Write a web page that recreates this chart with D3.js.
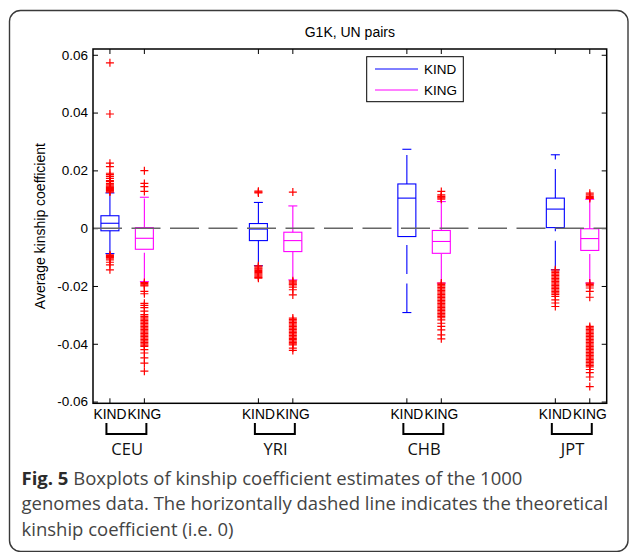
<!DOCTYPE html>
<meta charset="utf-8">
<style>
body { margin: 0; background: #fff; }
text.ax { font-family: "Liberation Sans", Arial, sans-serif; fill: #000; }
text.cap { font-family: "Open Sans", sans-serif; fill: #444; }
</style>
<svg width="630" height="552"></svg>
<script src="https://cdn.jsdelivr.net/npm/d3@7"></script>
<script>
const groups = ["CEU", "YRI", "CHB", "JPT"]
const methods = ["KIND", "KING"]
const yTicks = [-0.06, -0.04, -0.02, 0, 0.02, 0.04, 0.06]

// [lower whisker, q1, median, q3, upper whisker] per population
const kindStats = [
  [-0.0088, -0.0009, 0.0017, 0.0043, 0.0122],
  [-0.0130, -0.0043, -0.0003, 0.0016, 0.0089],
  [-0.0292, -0.0029, 0.0104, 0.0153, 0.0273],
  [-0.0144, 0.0002, 0.0066, 0.0104, 0.0254]
]
const kingStats = [
  [-0.0185, -0.0073, -0.0035, 0.0002, 0.0107],
  [-0.0179, -0.0081, -0.0043, -0.0014, 0.0077],
  [-0.0190, -0.0087, -0.0046, -0.0008, 0.0092],
  [-0.0190, -0.0077, -0.0036, -0.0002, 0.0100]
]

const kindOutliers = [
  [0.0572, 0.0395, 0.0225, 0.0213, 0.0190, 0.0185, 0.0179, 0.0172, 0.0165, 0.0161, 0.0154, 0.0150,
   0.0146, 0.0143, 0.0140, 0.0137, 0.0134, 0.0131, 0.0128, 0.0125,
   -0.0092, -0.0095, -0.0098, -0.0101, -0.0104, -0.0110, -0.0118, -0.0127, -0.0144],
  [0.0128, 0.0125, 0.0122,
   -0.0130, -0.0134, -0.0138, -0.0142, -0.0146, -0.0150, -0.0154, -0.0158, -0.0162, -0.0166, -0.0170, -0.0173],
  [],
  [-0.0144, -0.0149, -0.0154, -0.0159, -0.0164, -0.0169, -0.0174, -0.0179, -0.0184, -0.0189, -0.0194,
   -0.0199, -0.0204, -0.0209, -0.0214, -0.0219, -0.0224, -0.0229, -0.0236, -0.0248, -0.0259, -0.0271]
]
const kingOutliers = [
  [0.0199, 0.0155, 0.0144, 0.0127,
   -0.0188, -0.0192, -0.0196, -0.0200, -0.0219, -0.0227, -0.0260, -0.0267, -0.0275, -0.0287, -0.0299,
   -0.0305, -0.0310, -0.0315, -0.0320, -0.0325, -0.0330, -0.0335, -0.0340, -0.0345, -0.0350, -0.0355,
   -0.0360, -0.0365, -0.0370, -0.0375, -0.0380, -0.0385, -0.0390, -0.0395, -0.0400, -0.0405, -0.0409,
   -0.0420, -0.0432, -0.0449, -0.0467, -0.0495],
  [0.0125,
   -0.0182, -0.0186, -0.0190, -0.0194, -0.0196, -0.0204, -0.0213, -0.0231,
   -0.0311, -0.0316, -0.0321, -0.0326, -0.0331, -0.0336, -0.0341, -0.0346, -0.0351, -0.0356, -0.0361,
   -0.0366, -0.0371, -0.0376, -0.0381, -0.0386, -0.0391, -0.0396, -0.0400, -0.0404, -0.0415, -0.0423],
  [0.0127, 0.0115, 0.0110, 0.0107, 0.0104, 0.0100,
   -0.0190, -0.0195, -0.0200, -0.0205, -0.0210, -0.0215, -0.0220, -0.0225, -0.0230, -0.0235, -0.0240,
   -0.0245, -0.0250, -0.0255, -0.0260, -0.0265, -0.0270, -0.0275, -0.0280, -0.0285, -0.0290, -0.0295,
   -0.0300, -0.0305, -0.0310, -0.0317, -0.0329, -0.0340, -0.0352, -0.0369, -0.0383],
  [0.0121, 0.0115, 0.0110, 0.0106, 0.0103,
   -0.0190, -0.0195, -0.0200, -0.0207, -0.0219, -0.0239,
   -0.0340, -0.0345, -0.0350, -0.0355, -0.0360, -0.0365, -0.0370, -0.0375, -0.0380, -0.0385, -0.0390,
   -0.0395, -0.0400, -0.0405, -0.0410, -0.0415, -0.0420, -0.0425, -0.0430, -0.0435, -0.0440, -0.0445,
   -0.0450, -0.0455, -0.0460, -0.0465, -0.0470, -0.0475, -0.0480, -0.0489, -0.0500, -0.0515, -0.0548]
]

const title = "G1K, UN pairs"
const yLabel = "Average kinship coefficient"
const captionLines = [
  "Boxplots of kinship coefficient estimates of the 1000",
  "genomes data. The horizontally dashed line indicates the theoretical",
  "kinship coefficient (i.e. 0)"
]

const colors = {KIND: "#0000ff", KING: "#ff00ff"}

const svg = d3.select("svg")
const plot = {left: 93, top: 49, right: 606.7, bottom: 403.3}

// outer figure border
svg.append("rect")
    .attr("x", 9.5).attr("y", 10.5)
    .attr("width", 618.5).attr("height", 541)
    .attr("rx", 11)
    .attr("fill", "none")
    .attr("stroke", "#3a3a3a")
    .attr("stroke-width", 1.4)

const y = d3.scaleLinear()
    .domain([-0.0606, 0.062])
    .range([plot.bottom, plot.top])

const xg = d3.scalePoint()
    .domain(groups)
    .range([plot.left, plot.right])
    .padding(0.23)
const off = xg.step() * 0.116
const xm = d3.scalePoint().domain(methods).range([-off, off])
const bx = (g, m) => xg(g) + xm(m)

// flatten data into boxes
const boxes = []
groups.forEach((g, i) => {
  boxes.push({group: g, method: "KIND", s: kindStats[i], out: kindOutliers[i]})
  boxes.push({group: g, method: "KING", s: kingStats[i], out: kingOutliers[i]})
})

// y axis (left + right, inward ticks)
svg.append("g")
    .attr("transform", `translate(${plot.left},0)`)
    .call(d3.axisLeft(y).tickValues(yTicks).tickSize(-5).tickPadding(5)
      .tickFormat(d => d === 0 ? "0" : String(d)))
    .call(g => g.select(".domain").remove())
    .call(g => g.selectAll("line").attr("stroke", "#000"))
    .call(g => g.selectAll("text").attr("class", "ax").attr("font-size", 13.5).attr("fill", "#000"))

svg.append("g")
    .attr("transform", `translate(${plot.right},0)`)
    .call(d3.axisRight(y).tickValues(yTicks).tickSize(-5).tickFormat(""))
    .call(g => g.select(".domain").remove())
    .call(g => g.selectAll("line").attr("stroke", "#000"))

// x ticks (top + bottom)
const tickG = svg.append("g")
boxes.forEach(b => {
  const x = bx(b.group, b.method)
  tickG.append("line").attr("x1", x).attr("x2", x)
      .attr("y1", plot.bottom).attr("y2", plot.bottom - 5).attr("stroke", "#000")
  tickG.append("line").attr("x1", x).attr("x2", x)
      .attr("y1", plot.top).attr("y2", plot.top + 5).attr("stroke", "#000")
  tickG.append("text").attr("class", "ax")
      .attr("x", x).attr("y", 419)
      .attr("text-anchor", "middle")
      .attr("font-size", 13.8)
      .text(b.method)
})

// boxes
const boxG = svg.append("g")
const hw = 9, cw = 4.5
boxes.forEach(b => {
  const x = bx(b.group, b.method)
  const c = colors[b.method]
  const [lo, q1, med, q3, hi] = b.s
  const g = boxG.append("g").attr("stroke", c).attr("fill", "none").attr("stroke-width", 1.1)
  // whiskers, MATLAB style dashed
  g.append("line").attr("x1", x).attr("x2", x).attr("y1", y(q3)).attr("y2", y(hi))
      .attr("stroke-dasharray", "29,9.5")
  g.append("line").attr("x1", x).attr("x2", x).attr("y1", y(lo)).attr("y2", y(q1))
      .attr("stroke-dasharray", "29,9.5")
  g.append("line").attr("x1", x - cw).attr("x2", x + cw).attr("y1", y(hi)).attr("y2", y(hi))
  g.append("line").attr("x1", x - cw).attr("x2", x + cw).attr("y1", y(lo)).attr("y2", y(lo))
  g.append("rect").attr("x", x - hw).attr("width", 2 * hw)
      .attr("y", y(q3)).attr("height", y(q1) - y(q3))
  g.append("line").attr("x1", x - hw).attr("x2", x + hw).attr("y1", y(med)).attr("y2", y(med))
})

// zero reference line
svg.append("line")
    .attr("x1", plot.left).attr("x2", plot.right)
    .attr("y1", y(0)).attr("y2", y(0))
    .attr("stroke", "#666")
    .attr("stroke-width", 1.5)
    .attr("stroke-dasharray", "29,9.5")

// outliers as red plus signs
const outG = svg.append("g").attr("stroke", "#ff0000").attr("stroke-width", 1.2)
boxes.forEach(b => {
  const x = bx(b.group, b.method)
  b.out.forEach(v => {
    outG.append("path").attr("d", `M${x - 4},${y(v)}H${x + 4}M${x},${y(v) - 4}V${y(v) + 4}`)
  })
})

// frame
svg.append("rect")
    .attr("x", plot.left).attr("y", plot.top)
    .attr("width", plot.right - plot.left).attr("height", plot.bottom - plot.top)
    .attr("fill", "none").attr("stroke", "#000").attr("stroke-width", 1.5)

// title
svg.append("text").attr("class", "ax")
    .attr("x", (plot.left + plot.right) / 2).attr("y", 37)
    .attr("text-anchor", "middle").attr("font-size", 14)
    .text(title)

// y label
svg.append("text").attr("class", "ax")
    .attr("transform", `translate(45,${(plot.top + plot.bottom) / 2}) rotate(-90)`)
    .attr("text-anchor", "middle").attr("font-size", 14)
    .text(yLabel)

// legend
const lg = svg.append("g")
lg.append("rect").attr("x", 366.7).attr("y", 56.7).attr("width", 96.6).attr("height", 45)
    .attr("fill", "#fff").attr("stroke", "#000").attr("stroke-width", 1)
methods.forEach((m, i) => {
  const ly = 69 + i * 21
  lg.append("line").attr("x1", 375).attr("x2", 418).attr("y1", ly).attr("y2", ly)
      .attr("stroke", colors[m])
  lg.append("text").attr("class", "ax").attr("x", 424).attr("y", ly + 5)
      .attr("font-size", 13.5).text(m)
})

// group brackets under the axis
groups.forEach(g => {
  const x1 = bx(g, "KIND") - 3.5, x2 = bx(g, "KING") + 2
  svg.append("path")
      .attr("d", `M${x1},423V434H${x2}V423`)
      .attr("fill", "none").attr("stroke", "#000").attr("stroke-width", 2)
  svg.append("text").attr("class", "cap")
      .attr("x", xg(g)).attr("y", 455)
      .attr("text-anchor", "middle")
      .attr("font-size", 16.5)
      .style("fill", "#111")
      .text(g)
})

// caption
const capG = svg.append("g")
captionLines.forEach((line, i) => {
  const t = capG.append("text").attr("class", "cap")
      .attr("x", 21.5).attr("y", 484.5 + i * 25.5)
      .attr("font-size", 18.5)
  if (i === 0) {
    t.append("tspan").attr("font-weight", "bold").style("fill", "#2b2b2b").text("Fig. 5")
    t.append("tspan").text(" " + line)
  } else {
    t.text(line)
  }
})
</script>
